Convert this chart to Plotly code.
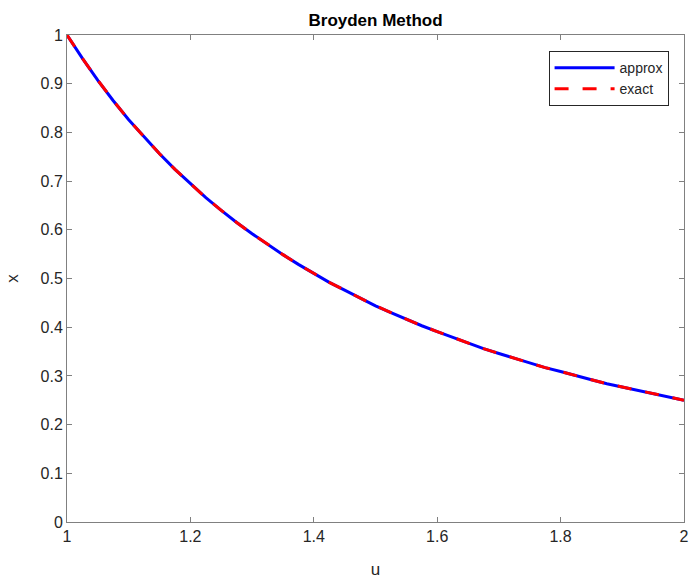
import plotly.graph_objects as go

u_vals = [1.000, 1.025, 1.050, 1.075, 1.100, 1.125, 1.150, 1.175, 1.200, 1.225, 1.250,
          1.275, 1.300, 1.325, 1.350, 1.375, 1.400, 1.425, 1.450, 1.475, 1.500,
          1.525, 1.550, 1.575, 1.600, 1.625, 1.650, 1.675, 1.700, 1.725, 1.750,
          1.775, 1.800, 1.825, 1.850, 1.875, 1.900, 1.925, 1.950, 1.975, 2.000]
x_approx = [1.000, 0.952, 0.907, 0.865, 0.826, 0.790, 0.756, 0.724, 0.694, 0.666, 0.640,
            0.615, 0.592, 0.570, 0.549, 0.529, 0.510, 0.492, 0.476, 0.460, 0.444,
            0.430, 0.416, 0.403, 0.391, 0.379, 0.367, 0.356, 0.346, 0.336, 0.327,
            0.317, 0.309, 0.300, 0.292, 0.284, 0.277, 0.270, 0.263, 0.256, 0.250]
x_exact = [1.000, 0.952, 0.907, 0.865, 0.826, 0.790, 0.756, 0.724, 0.694, 0.666, 0.640,
           0.615, 0.592, 0.570, 0.549, 0.529, 0.510, 0.492, 0.476, 0.460, 0.444,
           0.430, 0.416, 0.403, 0.391, 0.379, 0.367, 0.356, 0.346, 0.336, 0.327,
           0.317, 0.309, 0.300, 0.292, 0.284, 0.277, 0.270, 0.263, 0.256, 0.250]
x_ticks = [1, 1.2, 1.4, 1.6, 1.8, 2]
y_ticks = [0, 0.1, 0.2, 0.3, 0.4, 0.5, 0.6, 0.7, 0.8, 0.9, 1]

FONT = "Liberation Sans, Arial"

fig = go.Figure()
fig.add_trace(go.Scatter(x=u_vals, y=x_approx, mode="lines", name="approx",
                         line=dict(color="#0000ff", width=3)))
fig.add_trace(go.Scatter(x=u_vals, y=x_exact, mode="lines", name="exact",
                         line=dict(color="#ff0000", width=3, dash="14px,14px")))

axis_common = dict(showgrid=False, zeroline=False, showline=True, linecolor="#808080",
                   linewidth=1, mirror="ticks", ticks="inside", ticklen=5, tickcolor="#808080",
                   automargin=False, ticklabeloverflow="allow",
                   tickfont=dict(family=FONT, size=16, color="#262626"))
fig.update_xaxes(range=[1, 2], tickvals=x_ticks, ticktext=[("%g" % t) for t in x_ticks],
                 title=dict(text="u", font=dict(family=FONT, size=17, color="#262626"), standoff=18),
                 **axis_common)
fig.update_yaxes(range=[0, 1], tickvals=y_ticks, ticktext=[("%g" % t) for t in y_ticks],
                 title=dict(text="x", font=dict(family=FONT, size=17, color="#262626"), standoff=17),
                 **axis_common)

fig.update_layout(
    width=691, height=582,
    margin=dict(l=67, r=7, t=35, b=60, autoexpand=False),
    paper_bgcolor="white", plot_bgcolor="white",
    title=dict(text="<b>Broyden Method</b>", x=0.5435, xanchor="center", y=0.966, yanchor="middle",
               font=dict(family=FONT, size=17, color="black")),
    legend=dict(x=0.975, y=0.967, xanchor="right", yanchor="top", bgcolor="white",
                bordercolor="#262626", borderwidth=1, itemwidth=60,
                font=dict(family=FONT, size=14, color="#262626"),
                tracegroupgap=0),
    showlegend=True,
)

fig.write_html("out.html", config={"displayModeBar": False},
               post_script="document.body.style.margin='0';document.body.style.overflow='hidden';")
